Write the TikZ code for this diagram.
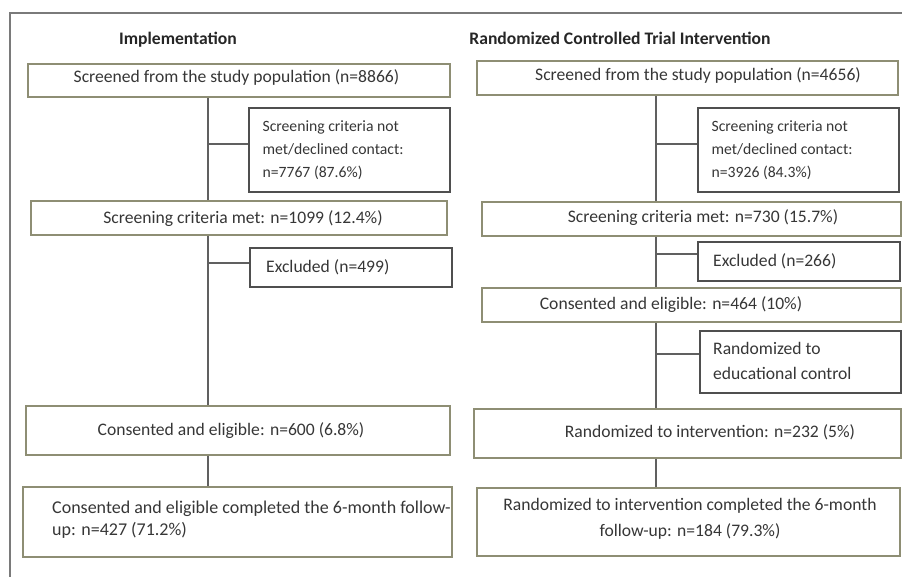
\documentclass[tikz,border=0pt]{standalone}
\usepackage{fontspec}
\setmainfont{Carlito}
\definecolor{boxOlive}{HTML}{8E8E74}
\definecolor{boxDark}{HTML}{4F4F4F}
\definecolor{lineGray}{HTML}{606060}
\definecolor{textGray}{HTML}{363636}
\definecolor{frameGray}{HTML}{7A7A7A}
\tikzset{
  mainbox/.style={draw=boxOlive,line width=1.3pt,inner sep=0pt},
  sidebox/.style={draw=boxDark,line width=1.3pt,inner sep=0pt},
  flowtext/.style={text=textGray,inner sep=0pt,font=\fontsize{17.6}{22}\selectfont},
  sidetext/.style={text=textGray,inner sep=0pt,align=left,font=\fontsize{15.7}{23}\selectfont},
  headtext/.style={text=black!85,inner sep=0pt,font=\bfseries\fontsize{17.6}{20}\selectfont},
  trunk/.style={draw=lineGray,line width=1.3pt},
}

\begin{document}
\begin{tikzpicture}[x=1pt,y=-1pt]
\useasboundingbox (0,0) rectangle (902,577);
% outer frame
\draw[frameGray,line width=1.5pt] (10,577) -- (10,13) -- (902,13);

% left column: implementation
\node[headtext,anchor=base] (lhead) at (178,45) {Implementation};
\node[mainbox,minimum width=422pt,minimum height=33pt] (lscreen) at (239,80.5) {};
\node[flowtext,anchor=base] (lscreentxt) at (236.5,83) {Screened from the study population (n=8866)};
\node[sidebox,minimum width=201pt,minimum height=84pt] (lnotmet) at (349.5,150) {};
\node[sidetext,anchor=west] (lnotmettxt) at ([xshift=14pt]lnotmet.west) {Screening criteria not\\met/declined contact:\\n=7767 (87.6\%)};
\node[mainbox,minimum width=416pt,minimum height=34pt] (lmet) at (239,218) {};
\node[flowtext,anchor=base] (lmettxt) at (243,224) {Screening criteria met: n=1099 (12.4\%)};
\node[sidebox,minimum width=202pt,minimum height=39pt] (lexcl) at (351,267.5) {};
\node[flowtext,anchor=base west] (lexcltxt) at (266,273) {Excluded (n=499)};
\node[mainbox,minimum width=424pt,minimum height=49pt] (lcons) at (238,430.5) {};
\node[flowtext,anchor=base] (lconstxt) at (231,435) {Consented and eligible: n=600 (6.8\%)};
\node[mainbox,minimum width=429pt,minimum height=70pt] (lfollow) at (237.5,522) {};
\node[flowtext,align=left,anchor=west,font=\fontsize{18}{22}\selectfont] (lfollowtxt) at (52,520) {Consented and eligible completed the 6-month follow-\\up: n=427 (71.2\%)};

% right column: randomized trial
\node[headtext,anchor=base] (rhead) at (620,45) {Randomized Controlled Trial Intervention};
\node[mainbox,minimum width=421pt,minimum height=34pt] (rscreen) at (687.5,78) {};
\node[flowtext,anchor=base] (rscreentxt) at (698,81) {Screened from the study population (n=4656)};
\node[sidebox,minimum width=201pt,minimum height=84pt] (rnotmet) at (798.5,150) {};
\node[sidetext,anchor=west] (rnotmettxt) at ([xshift=14pt]rnotmet.west) {Screening criteria not\\met/declined contact:\\n=3926 (84.3\%)};
\node[mainbox,minimum width=419pt,minimum height=34pt] (rmet) at (691.5,219) {};
\node[flowtext,anchor=base] (rmettxt) at (703,223) {Screening criteria met: n=730 (15.7\%)};
\node[sidebox,minimum width=202pt,minimum height=39pt] (rexcl) at (799,261.5) {};
\node[flowtext,anchor=base west] (rexcltxt) at (713,267) {Excluded (n=266)};
\node[mainbox,minimum width=419pt,minimum height=34pt] (rcons) at (691.5,305) {};
\node[flowtext,anchor=base] (rconstxt) at (671,309) {Consented and eligible: n=464 (10\%)};
\node[sidebox,minimum width=201pt,minimum height=62pt] (rctrl) at (800.5,362) {};
\node[flowtext,align=left,anchor=west,font=\fontsize{17.6}{25}\selectfont] (rctrltxt) at (713,361) {Randomized to\\educational control};
\node[mainbox,minimum width=427pt,minimum height=49pt] (rinterv) at (687.5,433.5) {};
\node[flowtext,anchor=base] (rintervtxt) at (710,437) {Randomized to intervention: n=232 (5\%)};
\node[mainbox,minimum width=423pt,minimum height=68pt] (rfollow) at (688.5,522) {};
\node[flowtext,align=center,font=\fontsize{17.6}{26}\selectfont] (rfollowtxt) at (690,519) {Randomized to intervention completed the 6-month\\follow-up: n=184 (79.3\%)};

% trunks and branches
\coordinate (ltrunk) at (208,0);
\coordinate (rtrunk) at (656,0);
\coordinate (lbranchA) at (208,144);
\coordinate (lbranchB) at (208,263);
\coordinate (rbranchA) at (656,144);
\coordinate (rbranchB) at (656,254);
\coordinate (rbranchC) at (656,354);
\draw[trunk] (lscreen.south -| ltrunk) -- (lmet.north -| ltrunk);
\draw[trunk] (lmet.south -| ltrunk) -- (lcons.north -| ltrunk);
\draw[trunk] (lcons.south -| ltrunk) -- (lfollow.north -| ltrunk);
\draw[trunk] (lbranchA) -- (lbranchA -| lnotmet.west);
\draw[trunk] (lbranchB) -- (lbranchB -| lexcl.west);
\draw[trunk] (rscreen.south -| rtrunk) -- (rmet.north -| rtrunk);
\draw[trunk] (rmet.south -| rtrunk) -- (rcons.north -| rtrunk);
\draw[trunk] (rcons.south -| rtrunk) -- (rinterv.north -| rtrunk);
\draw[trunk] (rinterv.south -| rtrunk) -- (rfollow.north -| rtrunk);
\draw[trunk] (rbranchA) -- (rbranchA -| rnotmet.west);
\draw[trunk] (rbranchB) -- (rbranchB -| rexcl.west);
\draw[trunk] (rbranchC) -- (rbranchC -| rctrl.west);
\end{tikzpicture}
\end{document}
